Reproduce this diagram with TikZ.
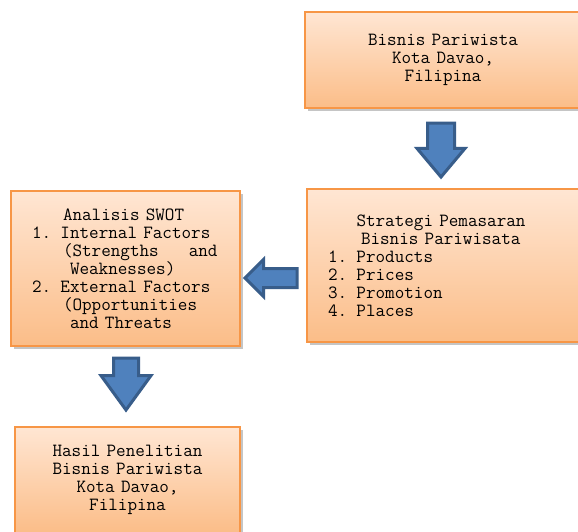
\documentclass[tikz,border=0pt]{standalone}
\usepackage{fontspec}
\usetikzlibrary{positioning,calc,shapes.arrows,shadows}
\definecolor{BoxLine}{HTML}{F79646}
\definecolor{BoxTop}{HTML}{FFE6D3}
\definecolor{BoxBot}{HTML}{FBBD88}
\definecolor{ArrowFill}{HTML}{4F81BD}
\definecolor{ArrowLine}{HTML}{385D8A}
\newcommand{\kodefont}{\ttfamily\fontsize{18.6}{18}\selectfont}
\tikzset{
  box/.style={rectangle,draw=BoxLine,line width=1.6pt,top color=BoxTop,bottom color=BoxBot,
    inner sep=0pt,font=\kodefont,
    drop shadow={shadow xshift=2.5pt,shadow yshift=-2.5pt,fill=black!45,opacity=.5}},
  blockarrow/.style={single arrow,draw=ArrowLine,fill=ArrowFill,line width=3pt,
    inner xsep=0pt,single arrow head indent=0pt,anchor=tail}
}

\begin{document}
\begin{tikzpicture}[x=1pt,y=-1pt]
  \useasboundingbox[fill=white] (0,0) rectangle (578,531);

  % boxes
  \node[box,minimum width=276pt,minimum height=96pt,text width=200pt,align=center] (usaha) at (443,60)
    {Bisnis Pariwista\\Kota Davao,\\Filipina};
  \node[box,minimum width=274pt,minimum height=153pt,text width=232pt,align=left] (strategi) at (444,265.5)
    {\hspace*{28.5pt}Strategi Pemasaran\\\hspace*{33pt}Bisnis Pariwisata\\1. Products\\2. Prices\\3. Promotion\\4. Places};
  \node[box,minimum width=229pt,minimum height=155pt,text width=187pt,align=left] (swot) at (125.5,268.5)
    {\hspace*{31pt}Analisis SWOT\\1. Internal Factors\\\hspace*{31pt}(Strengths\hspace{30pt}and\\\hspace*{38pt}Weaknesses)\\2. External Factors\\\hspace*{31pt}(Opportunities\\\hspace*{38pt}and Threats};
  \node[box,minimum width=225pt,minimum height=106pt,text width=200pt,align=center] (hasil) at (127.5,480)
    {Hasil Penelitian\\Bisnis Pariwista\\Kota Davao,\\Filipina};

  % block arrows
  \node[blockarrow,rotate=-90,minimum height=54pt,inner ysep=12pt,single arrow head extend=10.5pt,
    single arrow tip angle=80] (panahA) at ($(usaha.south)+(-2,12.7)$) {};
  \node[blockarrow,rotate=180,minimum height=52pt,inner ysep=8pt,single arrow head extend=9pt]
    (panahB) at ($(strategi.west)+(-7.7,12.5)$) {};
  \node[blockarrow,rotate=-90,minimum height=52pt,inner ysep=11pt,single arrow head extend=12.5pt,
    single arrow tip angle=72] (panahC) at ($(swot.south)+(0.5,9.7)$) {};
\end{tikzpicture}
\end{document}
